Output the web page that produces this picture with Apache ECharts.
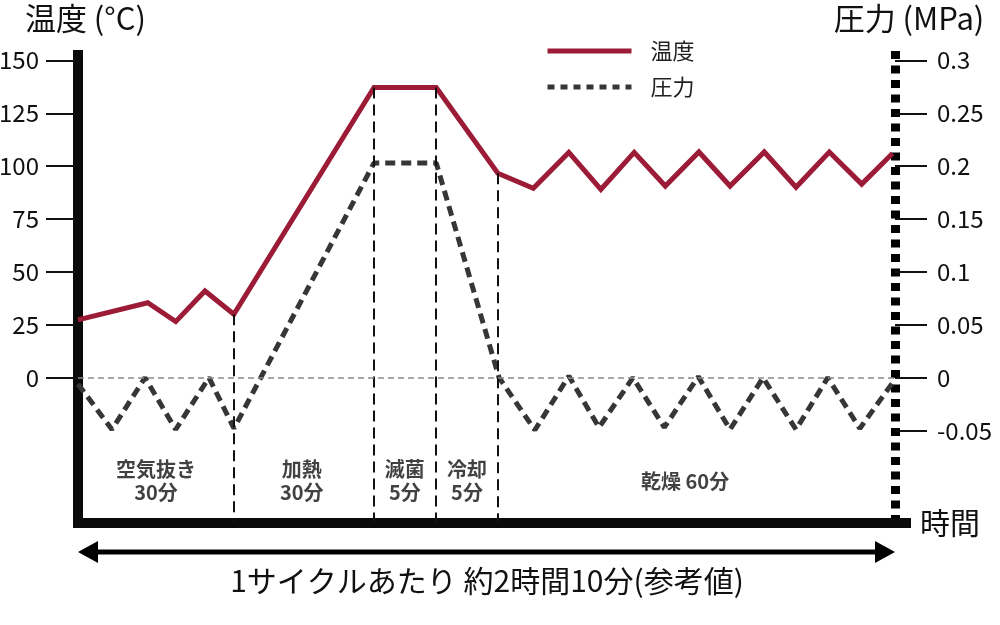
<!DOCTYPE html>
<html>
<head>
<meta charset="utf-8">
<script src="https://cdn.jsdelivr.net/npm/echarts@6/dist/echarts.min.js"></script>
<style>
html,body{margin:0;padding:0;background:#fff;}
#chart{width:1000px;height:625px;}
</style>
</head>
<body>
<div id="chart"></div>
<script>
// ---- data (x in schematic time units, 0..130 across the drawn cycle) ----
const tempX   = [0, 11.1, 15.55, 20.2, 24.8, 47.1, 57.0, 66.8, 72.45, 78.1, 83.2, 88.5, 93.45, 98.8, 103.75, 109.2, 114.25, 119.55, 124.7, 129.6];
const tempY   = [27.3, 35.4, 26.5, 41, 30, 137.2, 137.2, 96.6, 89.5, 106.5, 89, 106.5, 90.6, 106.7, 90.6, 106.7, 90, 106.7, 91.5, 106];
const presX   = [0, 5.4, 10.66, 15.55, 20.84, 24.82, 47.1, 57.0, 67.0, 72.7, 78.1, 82.9, 88.3, 93.3, 98.7, 103.75, 109.0, 114.25, 119.3, 124.4, 129.6];
const presY   = [-0.006, -0.049, 0, -0.049, 0, -0.048, 0.203, 0.203, 0, -0.0495, 0.0015, -0.047, 0, -0.047, 0.001, -0.049, 0, -0.049, 0, -0.048, -0.005];
const tempTicks = [0, 25, 50, 75, 100, 125, 150];
const presTicks = [-0.05, 0, 0.05, 0.1, 0.15, 0.2, 0.25, 0.3];
const phaseBoundX = [24.8, 47.1, 57.0, 66.8];
const phaseBoundTop = [30, 137.2, 137.2, 96.6];
const phaseNames = ['空気抜き\n30分', '加熱\n30分', '滅菌\n5分', '冷却\n5分', '乾燥 60分'];
const phaseLabelX = [12.4, 35.6, 52.0, 61.9, 96.6];
const phaseLabelY = -49;
const seriesNames = ['温度', '圧力'];
const caption = '1サイクルあたり 約2時間10分(参考値)';

const FONT = '"Noto Sans CJK JP", "Noto Sans", sans-serif';
const RED = '#9c1b36';
const GRAY = '#363636';
const TMIN = -68.7, TMAX = 154.9, PMIN = -0.1374, PMAX = 0.3098;

const chart = echarts.init(document.getElementById('chart'));
const option = {
  animation: false,
  textStyle: { fontFamily: FONT },
  grid: { left: 78, right: 94, top: 50, bottom: 102, containLabel: false, outerBoundsMode: 'none' },
  legend: {
    orient: 'vertical',
    left: 540, top: 35,
    itemWidth: 84, itemHeight: 14, itemGap: 14,
    itemStyle: { opacity: 0, borderWidth: 0 },
    textStyle: { fontSize: 22, color: '#222', fontFamily: FONT, lineHeight: 22, padding: [0, 0, 0, 14] },
    data: [
      { name: seriesNames[0], lineStyle: { width: 5 } },
      { name: seriesNames[1], lineStyle: { type: [7, 6], width: 5 } }
    ]
  },
  xAxis: {
    type: 'value', min: 0, max: 131.75,
    axisLine: { show: true, onZero: false, lineStyle: { color: '#0a0a0a', width: 10, cap: 'square' } },
    axisTick: { show: false }, axisLabel: { show: false }, splitLine: { show: false },
    name: '時間', nameLocation: 'end', nameGap: 14,
    nameTextStyle: { fontSize: 30, color: '#111', fontFamily: FONT, verticalAlign: 'middle' }
  },
  yAxis: [
    {
      type: 'value', min: TMIN, max: TMAX,
      axisLine: { show: true, onZero: false, lineStyle: { color: '#0a0a0a', width: 10, cap: 'butt' } },
      axisTick: { show: true, customValues: tempTicks, length: 32, lineStyle: { color: '#111', width: 2 } },
      axisLabel: { show: true, customValues: tempTicks, margin: 39, fontSize: 24, color: '#111', fontFamily: FONT },
      splitLine: { show: false },
      name: '温度 (°C)', nameLocation: 'end', nameGap: 16,
      nameTextStyle: { fontSize: 31, color: '#111', fontFamily: FONT, padding: [0, 0, 0, 15] }
    },
    {
      type: 'value', min: PMIN, max: PMAX, position: 'right', offset: -11,
      axisLine: { show: true, onZero: false, lineStyle: { color: '#000', width: 9, type: [8, 6.5], cap: 'butt' } },
      axisTick: { show: true, customValues: presTicks, length: 32, lineStyle: { color: '#111', width: 2 } },
      axisLabel: { show: true, customValues: presTicks, margin: 42, fontSize: 24, color: '#111', fontFamily: FONT,
        formatter: v => String(Math.round(v * 1000) / 1000) },
      splitLine: { show: false },
      name: '圧力 (MPa)', nameLocation: 'end', nameGap: 16,
      nameTextStyle: { fontSize: 31, color: '#111', fontFamily: FONT, padding: [0, 0, 0, 28] }
    }
  ],
  series: [
    {
      name: seriesNames[0], type: 'line', yAxisIndex: 0,
      data: tempX.map((x, i) => [x, tempY[i]]),
      symbol: 'none', z: 3,
      lineStyle: { color: RED, width: 5, join: 'miter' },
      itemStyle: { color: RED },
      markLine: {
        silent: true, symbol: 'none', label: { show: false },
        lineStyle: { color: '#111', width: 2, type: [11, 6] },
        data: phaseBoundX.map((x, i) => [{ coord: [x, phaseBoundTop[i]] }, { coord: [x, TMIN + 0.3] }])
      }
    },
    {
      name: seriesNames[1], type: 'line', yAxisIndex: 1,
      data: presX.map((x, i) => [x, presY[i]]),
      symbol: 'none', z: 2,
      lineStyle: { color: GRAY, width: 5, type: [10, 6] },
      itemStyle: { color: GRAY },
      markLine: {
        silent: true, symbol: 'none', label: { show: false },
        lineStyle: { color: '#8a8a8a', width: 1.5, type: [6, 4] },
        data: [[{ coord: [0, 0] }, { coord: [130, 0] }]]
      }
    },
    {
      name: 'phase', type: 'scatter', yAxisIndex: 0, silent: true,
      symbolSize: 1, itemStyle: { color: 'rgba(0,0,0,0)' },
      data: phaseLabelX.map((x, i) => [x, phaseLabelY, phaseNames[i]]),
      label: { show: true, position: 'inside', formatter: p => p.value[2],
        fontSize: 20, fontWeight: 'bold', lineHeight: 23, color: '#111', fontFamily: FONT }
    }
  ],
  graphic: [
    { type: 'line', shape: { x1: 95, y1: 552, x2: 878, y2: 552 }, style: { stroke: '#000', lineWidth: 5 } },
    { type: 'polygon', shape: { points: [[78, 552], [98, 541], [98, 563]] }, style: { fill: '#000' } },
    { type: 'polygon', shape: { points: [[895, 552], [875, 541], [875, 563]] }, style: { fill: '#000' } },
    { type: 'text', x: 487, y: 581, style: { text: caption, font: '30px ' + FONT, fill: '#111', textAlign: 'center', textVerticalAlign: 'middle' } }
  ]
};
chart.setOption(option);
</script>
</body>
</html>
